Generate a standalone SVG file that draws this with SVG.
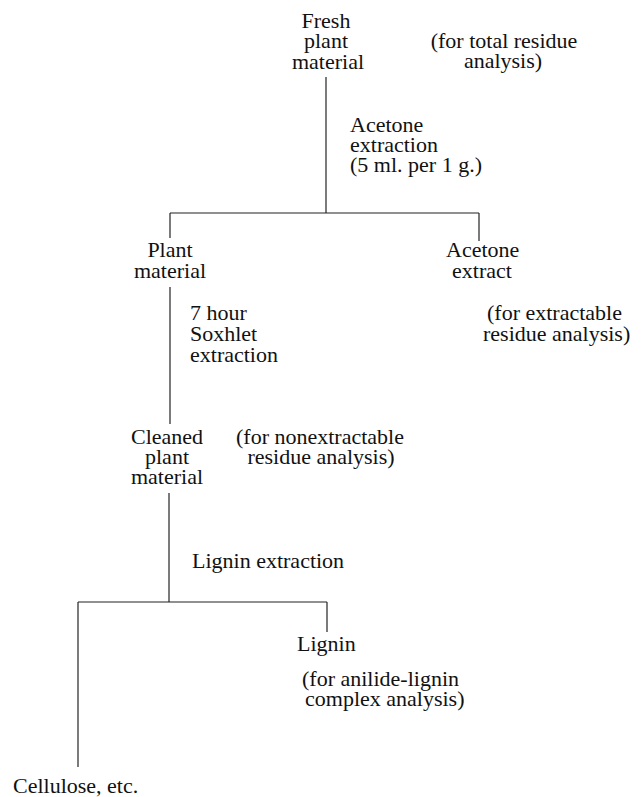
<svg xmlns="http://www.w3.org/2000/svg" width="641" height="797" viewBox="0 0 641 797">
<style>
text{font-family:"Liberation Serif","Times New Roman",serif;font-size:22px;fill:#111}
.m{text-anchor:middle}
.c line{stroke:#222;stroke-width:1.2}
</style>
<rect width="641" height="797" fill="#fff"/>
<g class="c" id="connectors">
<line x1="326" y1="77" x2="326" y2="213"/>
<line x1="170" y1="213" x2="479" y2="213"/>
<line x1="170" y1="213" x2="170" y2="238"/>
<line x1="479" y1="213" x2="479" y2="241"/>
<line x1="170" y1="287" x2="170" y2="424"/>
<line x1="169" y1="493" x2="169" y2="602"/>
<line x1="78" y1="602" x2="327" y2="602"/>
<line x1="327" y1="602" x2="327" y2="632"/>
<line x1="78" y1="602" x2="78" y2="767"/>
</g>
<g id="fresh"><text class="m" x="326" y="28">Fresh</text><text class="m" x="326" y="48">plant</text><text class="m" x="328" y="69">material</text></g>
<g id="note-total"><text class="m" x="504" y="48">(for total residue</text><text class="m" x="503" y="68">analysis)</text></g>
<g id="step-acetone"><text x="350" y="132">Acetone</text><text x="350" y="152">extraction</text><text x="350" y="172">(5 ml. per 1 g.)</text></g>
<g id="plant"><text class="m" x="170" y="257">Plant</text><text class="m" x="170" y="278">material</text></g>
<g id="extract"><text x="446" y="257">Acetone</text><text x="452" y="278">extract</text></g>
<g id="step-soxhlet"><text x="190" y="320">7 hour</text><text x="190" y="341">Soxhlet</text><text x="190" y="362">extraction</text></g>
<g id="note-extractable"><text x="487" y="320">(for extractable</text><text x="483" y="341">residue analysis)</text></g>
<g id="cleaned"><text class="m" x="167" y="444">Cleaned</text><text class="m" x="167" y="464">plant</text><text class="m" x="167" y="484">material</text></g>
<g id="note-nonextractable"><text class="m" x="320" y="444">(for nonextractable</text><text class="m" x="321" y="464">residue analysis)</text></g>
<g id="step-lignin"><text x="192" y="568">Lignin extraction</text></g>
<g id="lignin"><text x="297" y="651">Lignin</text></g>
<g id="note-anilide"><text x="302" y="686">(for anilide-lignin</text><text x="305" y="706">complex analysis)</text></g>
<g id="cellulose"><text x="13" y="793">Cellulose, etc.</text></g>
</svg>
